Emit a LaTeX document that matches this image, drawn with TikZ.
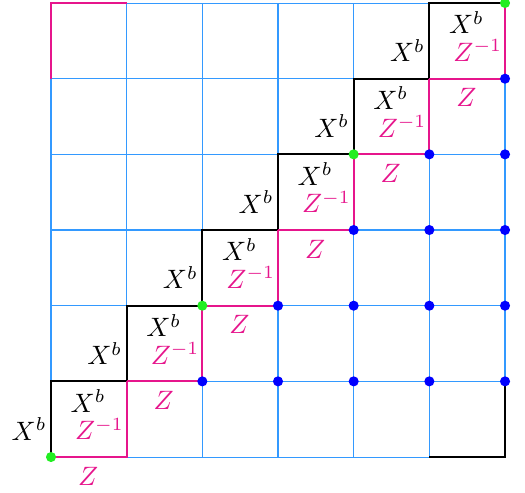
\documentclass[tikz,border=0pt]{standalone}
\usetikzlibrary{calc}
\definecolor{GridBlue}{HTML}{3399FF}
\definecolor{StairMagenta}{HTML}{E6158C}
\definecolor{DotGreen}{HTML}{22EE22}
\definecolor{DotBlue}{HTML}{0000FF}

\begin{document}
\begin{tikzpicture}[font=\normalsize, scale=1]
  \useasboundingbox (-0.674,-0.4625) rectangle (6.264,6.04);
  \draw[GridBlue, thin] (0,0) grid (6,6);
  \foreach \i in {0,...,5} {
    \draw[thick] (\i,\i) -- (\i,\i+1) -- (\i+1,\i+1);              % upper left
    \draw[thick, StairMagenta] (\i+1,\i+1) -- (\i+1,\i) -- (\i,\i); % lower right
    \node at (\i-0.29,\i+0.37) {$X^b$};
    \node at (\i+0.49,\i+0.74) {$X^b$};
    \node[StairMagenta] at (\i+0.64,\i+0.37) {$Z^{-1}$};
    \node[StairMagenta] at (\i+0.49,\i-0.25) {$Z$};
  }
  \draw[thick, StairMagenta] (0,5) -- (0,6) -- (1,6); % corner cells
  \draw[thick] (5,0) -- (6,0) -- (6,1);
  \foreach \j in {1,...,5}
    \foreach \i in {\j,...,5}
      \fill[DotBlue] (\i+1,\j) circle (1.9pt);
  \foreach \k in {0,2,4,6}
    \fill[DotGreen] (\k,\k) circle (1.9pt);
\end{tikzpicture}
\end{document}
